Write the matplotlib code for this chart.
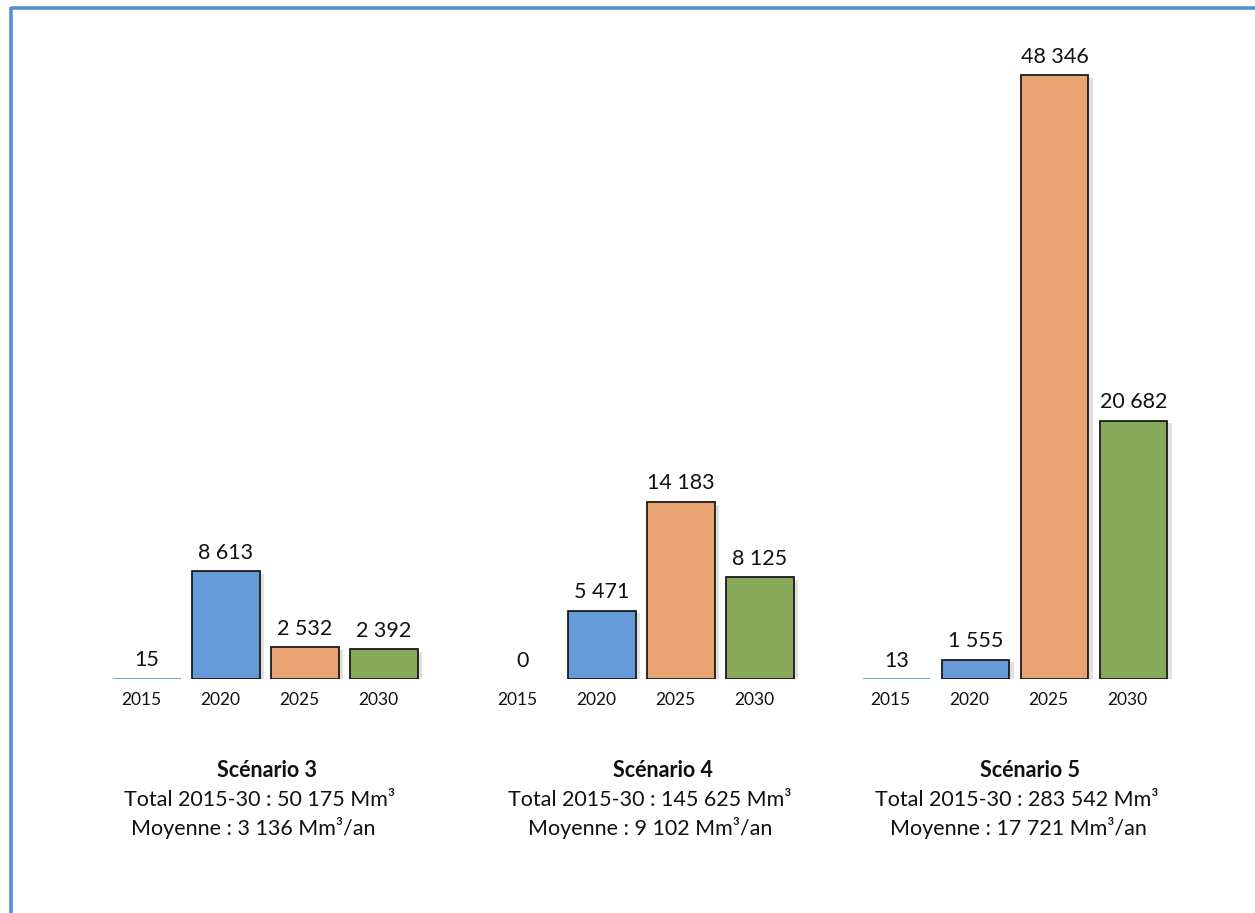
import matplotlib
matplotlib.use("Agg")
import matplotlib.pyplot as plt
import matplotlib.patheffects as pe
from matplotlib.lines import Line2D
from matplotlib.transforms import ScaledTranslation

plt.rcParams['font.family'] = ['Lato', 'DejaVu Sans']

years = ["2015", "2020", "2025", "2030"]
scenarios = ["Scénario 3", "Scénario 4", "Scénario 5"]
values = {
    "Scénario 3": [15, 8613, 2532, 2392],
    "Scénario 4": [0, 5471, 14183, 8125],
    "Scénario 5": [13, 1555, 48346, 20682],
}
totals = ["50 175", "145 625", "283 542"]
moyennes = ["3 136", "9 102", "17 721"]

bar_colors = ["#6699D8", "#6699D8", "#E9A272", "#86A85A"]
edge_colors = ["#6699D8", "#1a1a1a", "#1a1a1a", "#1a1a1a"]

W, H = 1255, 913
fig = plt.figure(figsize=(W / 100, H / 100), dpi=100)

# layout in pixels
axes_left_px = [107.5, 483.5, 857.0]
axes_w_px = 316
base_px = 679
ymax = 50000
px_per_unit = 604 / 48346
axes_h_px = ymax * px_per_unit

text_x_px = [(267, 259, 253), (663, 650, 650), (1030, 1017, 1018)]

def fmt(v):
    return f"{v:,}".replace(",", " ")

for i, sc in enumerate(scenarios):
    ax = fig.add_axes([axes_left_px[i] / W, (H - base_px) / H,
                       axes_w_px / W, axes_h_px / H])
    x = list(range(len(years)))
    vals = values[sc]
    bars = ax.bar(x, vals, width=0.86, color=bar_colors,
                  edgecolor=edge_colors, linewidth=1.3, zorder=3)
    for b, v in zip(bars, vals):
        if v == 0:
            b.set_linewidth(0)
        if v > 100:
            b.set_path_effects([pe.SimplePatchShadow(offset=(3, -2), alpha=0.18,
                                                     shadow_rgbFace="#555555"),
                                pe.Normal()])
        ax.annotate(fmt(v), (b.get_x() + b.get_width() / 2, v),
                    xytext=(0, 6), textcoords="offset points",
                    ha="center", va="bottom", fontsize=15.5, color="#111111")
    ax.set_xlim(-0.5, 3.5)
    ax.set_ylim(0, ymax)
    ax.set_xticks(x)
    ax.set_xticklabels(years, fontsize=12.5, color="#111111")
    ax.tick_params(axis="x", length=0, pad=9)
    for lab in ax.get_xticklabels():
        lab.set_transform(lab.get_transform() + ScaledTranslation(-6 / 100, 0, fig.dpi_scale_trans))
    ax.set_yticks([])
    for s in ax.spines.values():
        s.set_visible(False)
    ax.patch.set_alpha(0)

    tx, ttx, mx = text_x_px[i]
    fig.text(tx / W, 1 - 770 / H, sc, ha="center", va="center",
             fontsize=15.5, fontweight="bold", color="#111111")
    fig.text(ttx / W, 1 - 800 / H, f"Total 2015-30 : {totals[i]} Mm³",
             ha="center", va="center", fontsize=15.5, color="#111111")
    fig.text(mx / W, 1 - 828 / H, f"Moyenne : {moyennes[i]} Mm³/an",
             ha="center", va="center", fontsize=15.5, color="#111111")

# frame lines (top and left)
border = "#558ED5"
fig.add_artist(Line2D([10.5 / W, 1.0], [1 - 8.5 / H, 1 - 8.5 / H],
                      transform=fig.transFigure, color=border, linewidth=2.6,
                      solid_capstyle="butt"))
fig.add_artist(Line2D([10.5 / W, 10.5 / W], [0, 1 - 7 / H],
                      transform=fig.transFigure, color=border, linewidth=2.6,
                      solid_capstyle="butt"))

fig.savefig("out.png", dpi=100, facecolor="white")
